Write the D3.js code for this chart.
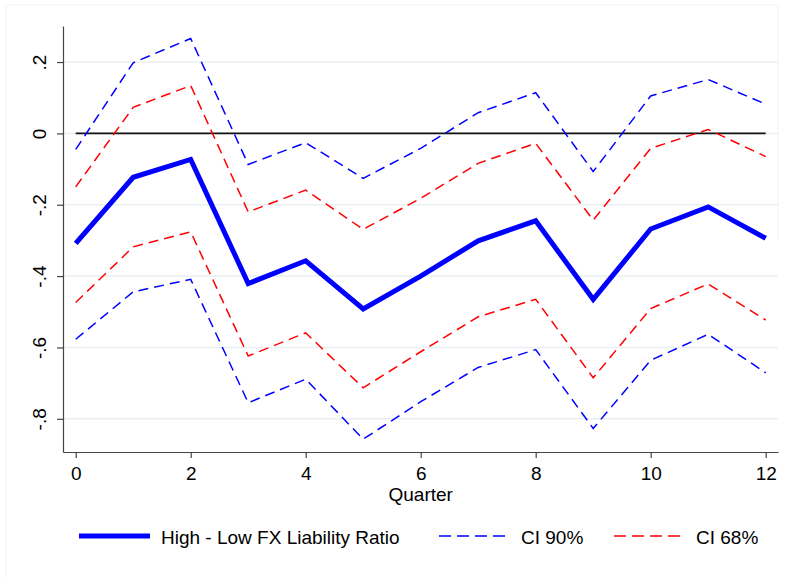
<!DOCTYPE html>
<html>
<head>
<meta charset="utf-8">
<script src="https://cdn.jsdelivr.net/npm/d3@7"></script>
<style>
  html, body { margin: 0; padding: 0; background: #fff; }
  svg { display: block; font-family: "Liberation Sans", Arial, Helvetica, sans-serif; }
</style>
</head>
<body>
<svg id="chart" width="785" height="577"></svg>
<script>
// Impulse response by quarter: point estimate with 90% and 68% confidence bands
const quarters  = [0, 1, 2, 3, 4, 5, 6, 7, 8, 9, 10, 11, 12];
const estimate  = [-0.308, -0.123, -0.073, -0.421, -0.357, -0.492, -0.400, -0.301, -0.245, -0.465, -0.268, -0.206, -0.294];
const ci90Upper = [-0.045, 0.198, 0.266, -0.087, -0.026, -0.126, -0.042, 0.058, 0.114, -0.107, 0.105, 0.151, 0.082];
const ci90Lower = [-0.577, -0.444, -0.409, -0.755, -0.689, -0.857, -0.752, -0.656, -0.606, -0.827, -0.636, -0.563, -0.671];
const ci68Upper = [-0.150, 0.073, 0.134, -0.220, -0.159, -0.269, -0.182, -0.084, -0.028, -0.243, -0.042, 0.011, -0.065];
const ci68Lower = [-0.474, -0.318, -0.276, -0.624, -0.559, -0.713, -0.612, -0.514, -0.465, -0.685, -0.491, -0.422, -0.523];

const xTickValues = [0, 2, 4, 6, 8, 10, 12];
const yTickValues = [0.2, 0, -0.2, -0.4, -0.6, -0.8];
const yTickLabels = [".2", "0", "-.2", "-.4", "-.6", "-.8"];
const xTitle = "Quarter";
const legendLabels = ["High - Low FX Liability Ratio", "CI 90%", "CI 68%"];

const BLUE = "#0000ff";
const RED = "#ff0000";
const GRID = "#e9eff2";

const svg = d3.select("#chart");

// Plot region: axes frame from x=63..778, y=26..452
const x = d3.scaleLinear().domain([-0.221, 12.214]).range([63, 778]);
const y = d3.scaleLinear().domain([-0.893, 0.301]).range([452, 26]);

// faint outer frame
svg.append("path")
  .attr("d", "M6,577 V5 H778 V240")
  .attr("fill", "none")
  .attr("stroke", "#eef2f5")
  .attr("stroke-width", 1);

// horizontal grid lines
svg.append("g")
  .selectAll("line")
  .data(yTickValues)
  .join("line")
  .attr("x1", x.range()[0])
  .attr("x2", x.range()[1])
  .attr("y1", d => y(d))
  .attr("y2", d => y(d))
  .attr("stroke", GRID)
  .attr("stroke-width", 1.5);

// y axis
const yAxis = svg.append("g")
  .attr("transform", `translate(${x.range()[0]},0)`)
  .call(d3.axisLeft(y)
    .tickValues(yTickValues)
    .tickFormat((d, i) => yTickLabels[i])
    .tickSize(6)
    .tickSizeOuter(0));
yAxis.select(".domain").attr("stroke", "#444").attr("stroke-width", 1.2);
yAxis.selectAll(".tick line").attr("stroke", "#444").attr("stroke-width", 1.2);
yAxis.selectAll(".tick text")
  .attr("x", null).attr("dy", null)
  .attr("transform", "translate(-17,0) rotate(-90)")
  .attr("text-anchor", "middle")
  .attr("fill", "#000")
  .style("font-size", "19px");

// x axis
const xAxis = svg.append("g")
  .attr("transform", `translate(0,${y.range()[0]})`)
  .call(d3.axisBottom(x)
    .tickValues(xTickValues)
    .tickFormat(d3.format("d"))
    .tickSize(6)
    .tickSizeOuter(0));
xAxis.select(".domain").attr("stroke", "#444").attr("stroke-width", 1.2);
xAxis.selectAll(".tick line").attr("stroke", "#444").attr("stroke-width", 1.2);
xAxis.selectAll(".tick text")
  .attr("y", 28).attr("dy", null)
  .attr("fill", "#000")
  .style("font-size", "19px");

svg.append("text")
  .attr("x", (x(0) + x(12)) / 2)
  .attr("y", 501)
  .attr("text-anchor", "middle")
  .style("font-size", "19px")
  .text(xTitle);

// zero reference line across the data range
svg.append("line")
  .attr("x1", x(quarters[0]))
  .attr("x2", x(quarters[quarters.length - 1]))
  .attr("y1", y(0))
  .attr("y2", y(0))
  .attr("stroke", "#111")
  .attr("stroke-width", 1.6);

const line = d3.line()
  .x((d, i) => x(quarters[i]))
  .y(d => y(d));

const series = [
  { values: ci90Upper, color: BLUE, width: 1.5, dash: "10,6" },
  { values: ci90Lower, color: BLUE, width: 1.5, dash: "10,6" },
  { values: ci68Upper, color: RED, width: 1.5, dash: "10,6" },
  { values: ci68Lower, color: RED, width: 1.5, dash: "10,6" },
  { values: estimate, color: BLUE, width: 5, dash: null }
];

svg.append("g")
  .selectAll("path")
  .data(series)
  .join("path")
  .attr("d", d => line(d.values))
  .attr("fill", "none")
  .attr("stroke", d => d.color)
  .attr("stroke-width", d => d.width)
  .attr("stroke-dasharray", d => d.dash)
  .attr("stroke-linejoin", "miter");

// legend
const legendItems = [
  { label: legendLabels[0], color: BLUE, width: 5, dash: null, x0: 79, x1: 150, tx: 161 },
  { label: legendLabels[1], color: BLUE, width: 1.5, dash: "12,6", x0: 439, x1: 510, tx: 521 },
  { label: legendLabels[2], color: RED, width: 1.5, dash: "12,6", x0: 614, x1: 684, tx: 696 }
];
const lg = svg.append("g").selectAll("g").data(legendItems).join("g");
lg.append("line")
  .attr("x1", d => d.x0).attr("x2", d => d.x1)
  .attr("y1", 536).attr("y2", 536)
  .attr("stroke", d => d.color)
  .attr("stroke-width", d => d.width)
  .attr("stroke-dasharray", d => d.dash);
lg.append("text")
  .attr("x", d => d.tx)
  .attr("y", 544)
  .style("font-size", "19px")
  .text(d => d.label);
</script>
</body>
</html>
